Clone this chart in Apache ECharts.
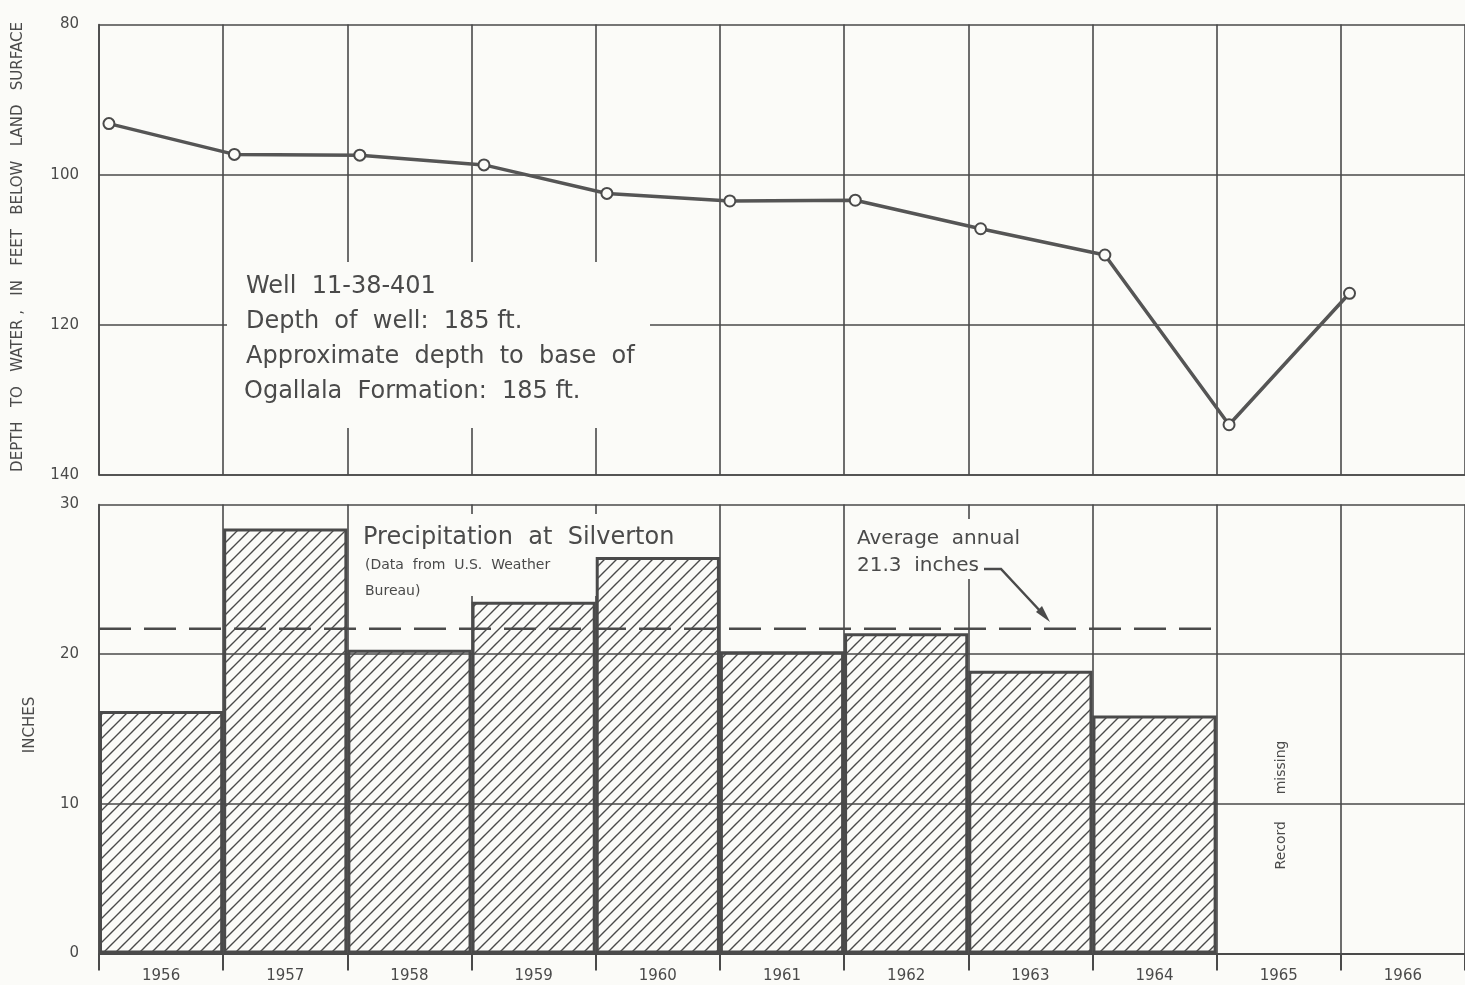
<!DOCTYPE html>
<html>
<head>
<meta charset="utf-8">
<script src="https://cdn.jsdelivr.net/npm/echarts@6/dist/echarts.min.js"></script>
<style>
  html, body { margin: 0; padding: 0; background: #fbfbf8; }
  #chart { width: 1465px; height: 985px; }
</style>
</head>
<body>
<div id="chart"></div>
<script>
// ---- data ----
const years = ['1956', '1957', '1958', '1959', '1960', '1961', '1962', '1963', '1964', '1965', '1966'];
// time of each water-level measurement (decimal year) and depth to water (ft)
const levelDates  = [1956.08, 1957.09, 1958.10, 1959.10, 1960.09, 1961.08, 1962.09, 1963.10, 1964.10, 1965.10, 1966.07];
const levelDepths = [93.2, 97.3, 97.4, 98.7, 102.5, 103.5, 103.4, 107.2, 110.7, 133.3, 115.8];
// annual precipitation at Silverton (inches); 1965-66 record missing
const precipInches = [16.2, 28.4, 20.3, 23.5, 26.5, 20.2, 21.4, 18.9, 15.9, null, null];
// level at which the average-annual dashed line is drawn, and its span
const averageLevel = 21.7;
const averageSpan = [1956, 1965];
const depthRange = [80, 140, 20];
const inchRange = [0, 30, 10];

const INK = '#4a4a4a';
const FONT = 'DejaVu Sans';

// hatch pattern
const hatch = document.createElement('canvas');
hatch.width = 12; hatch.height = 12;
(function () {
  const c = hatch.getContext('2d');
  c.strokeStyle = '#4a4a4a';
  c.lineWidth = 1.4;
  c.beginPath();
  c.moveTo(-2, 14); c.lineTo(14, -2);
  c.moveTo(-2, 2); c.lineTo(2, -2);
  c.moveTo(10, 14); c.lineTo(14, 10);
  c.stroke();
})();

const levelData = levelDates.map((d, i) => [d, levelDepths[i]]);

const chart = echarts.init(document.getElementById('chart'), null, { renderer: 'canvas' });

const gridLine = { show: true, lineStyle: { color: INK, width: 1.6 } };

const option = {
  backgroundColor: '#fbfbf8',
  animation: false,
  grid: [
    { left: 99, width: 1370, top: 24.5, height: 450.5 },
    { left: 99, width: 1370, top: 504.5, height: 449 }
  ],
  xAxis: [
    {
      type: 'value', gridIndex: 0, min: 1956, max: 1967, interval: 1,
      axisLabel: { show: false }, axisTick: { show: false },
      axisLine: { show: true, lineStyle: { color: INK, width: 1.6 } },
      splitLine: gridLine
    },
    {
      type: 'category', gridIndex: 1, data: years, boundaryGap: true,
      axisLine: { show: true, lineStyle: { color: INK, width: 2 } },
      axisTick: { show: true, length: 17, interval: 0, lineStyle: { color: INK, width: 2 } },
      axisLabel: { interval: 0, margin: 15, color: INK, fontFamily: FONT, fontSize: 15 },
      splitLine: { show: true, interval: 0, lineStyle: { color: INK, width: 1.6 } }
    },
    {
      type: 'value', gridIndex: 1, min: 1956, max: 1967, show: false
    }
  ],
  yAxis: [
    {
      type: 'value', gridIndex: 0, inverse: true,
      min: depthRange[0], max: depthRange[1], interval: depthRange[2],
      axisLine: { show: true, lineStyle: { color: INK, width: 1.6 } },
      axisTick: { show: false },
      axisLabel: { margin: 20, color: INK, fontFamily: FONT, fontSize: 15 },
      splitLine: gridLine
    },
    {
      type: 'value', gridIndex: 1,
      min: inchRange[0], max: inchRange[1], interval: inchRange[2],
      axisLine: { show: true, lineStyle: { color: INK, width: 1.6 } },
      axisTick: { show: false },
      axisLabel: { margin: 20, color: INK, fontFamily: FONT, fontSize: 15 },
      splitLine: gridLine
    }
  ],
  series: [
    {
      type: 'line', xAxisIndex: 0, yAxisIndex: 0, data: levelData,
      symbol: 'circle', symbolSize: 11, z: 5,
      lineStyle: { color: '#555', width: 3.5 },
      itemStyle: { color: '#fbfbf8', borderColor: INK, borderWidth: 2 }
    },
    {
      type: 'bar', xAxisIndex: 1, yAxisIndex: 1, data: precipInches,
      barWidth: '100%', barCategoryGap: '0%', z: 3,
      itemStyle: { color: { image: hatch, repeat: 'repeat' }, borderColor: INK, borderWidth: 3 }
    },
    {
      type: 'line', xAxisIndex: 2, yAxisIndex: 1, z: 6,
      data: [[averageSpan[0], averageLevel], [averageSpan[1], averageLevel]],
      symbol: 'none',
      lineStyle: { color: INK, width: 2.5, type: [32, 13] }
    }
  ],
  graphic: [
    // white areas behind annotation texts
    { type: 'rect', z: 1, shape: { x: 227, y: 262, width: 423, height: 166 }, style: { fill: '#fbfbf8' } },
    { type: 'rect', z: 1, shape: { x: 350, y: 514, width: 362, height: 82 }, style: { fill: '#fbfbf8' } },
    { type: 'rect', z: 1, shape: { x: 848, y: 519, width: 190, height: 60 }, style: { fill: '#fbfbf8' } },

    // axis titles
    { type: 'text', z: 100, x: 18, y: 247, rotation: Math.PI / 2,
      style: { text: 'DEPTH   TO   WATER ,   IN   FEET   BELOW   LAND   SURFACE', fill: INK,
               font: '15px "DejaVu Sans"', align: 'center', verticalAlign: 'middle' } },
    { type: 'text', z: 100, x: 30, y: 725, rotation: Math.PI / 2,
      style: { text: 'INCHES', fill: INK, font: '15px "DejaVu Sans"', align: 'center', verticalAlign: 'middle' } },

    // well annotation
    { type: 'text', z: 100, x: 246, y: 287,
      style: { text: 'Well  11-38-401', fill: INK, font: '24px "DejaVu Sans"', verticalAlign: 'middle' } },
    { type: 'text', z: 100, x: 246, y: 322,
      style: { text: 'Depth  of  well:  185 ft.', fill: INK, font: '24px "DejaVu Sans"', verticalAlign: 'middle' } },
    { type: 'text', z: 100, x: 246, y: 357,
      style: { text: 'Approximate  depth  to  base  of', fill: INK, font: '24px "DejaVu Sans"', verticalAlign: 'middle' } },
    { type: 'text', z: 100, x: 244, y: 392,
      style: { text: 'Ogallala  Formation:  185 ft.', fill: INK, font: '24px "DejaVu Sans"', verticalAlign: 'middle' } },

    // precipitation annotation
    { type: 'text', z: 100, x: 363, y: 538,
      style: { text: 'Precipitation  at  Silverton', fill: INK, font: '24px "DejaVu Sans"', verticalAlign: 'middle' } },
    { type: 'text', z: 100, x: 365, y: 565,
      style: { text: '(Data  from  U.S.  Weather', fill: INK, font: '14px "DejaVu Sans"', verticalAlign: 'middle' } },
    { type: 'text', z: 100, x: 365, y: 591,
      style: { text: 'Bureau)', fill: INK, font: '14px "DejaVu Sans"', verticalAlign: 'middle' } },

    // average annual annotation
    { type: 'text', z: 100, x: 857, y: 539,
      style: { text: 'Average  annual', fill: INK, font: '20px "DejaVu Sans"', verticalAlign: 'middle' } },
    { type: 'text', z: 100, x: 857, y: 566,
      style: { text: '21.3  inches', fill: INK, font: '20px "DejaVu Sans"', verticalAlign: 'middle' } },
    { type: 'polyline', z: 100, shape: { points: [[984, 569], [1001, 569], [1042, 613]] },
      style: { stroke: INK, lineWidth: 2.5, fill: null } },
    { type: 'polygon', z: 100, shape: { points: [[1050, 622], [1036, 612], [1042, 606]] },
      style: { fill: INK } },

    // record missing
    { type: 'text', z: 100, x: 1281, y: 805, rotation: Math.PI / 2,
      style: { text: 'Record      missing', fill: INK, font: '14px "DejaVu Sans"', align: 'center', verticalAlign: 'middle' } }
  ]
};

chart.setOption(option);
</script>
</body>
</html>
